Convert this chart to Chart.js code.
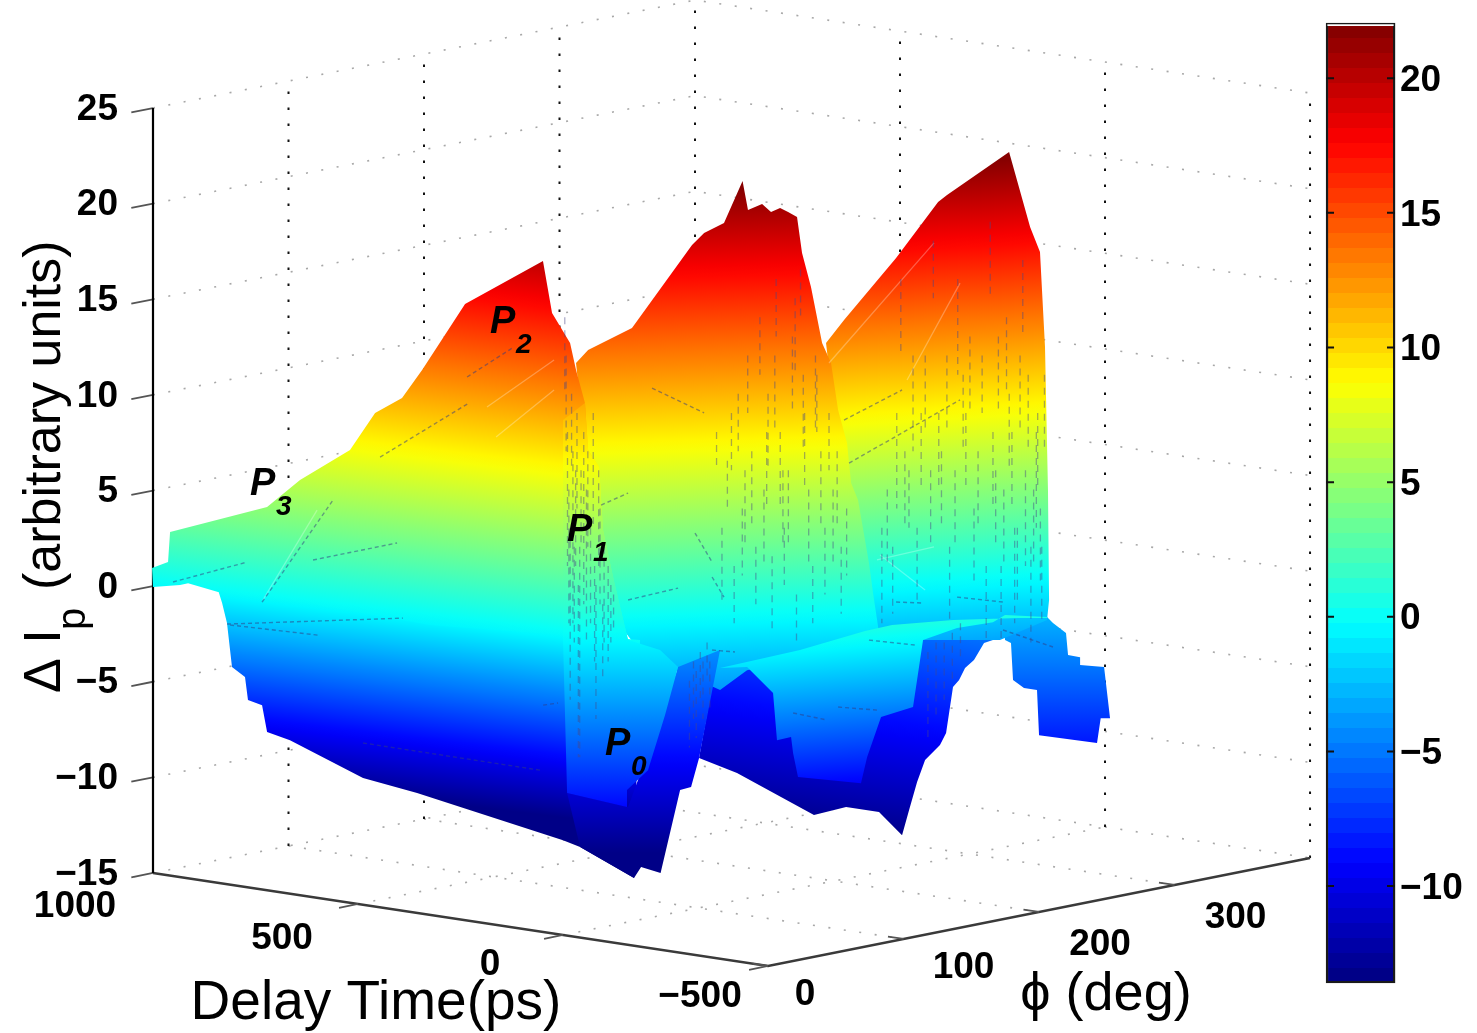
<!DOCTYPE html>
<html><head><meta charset="utf-8">
<style>html,body{margin:0;padding:0;background:#fff}canvas{display:block}</style>
<script src="https://cdn.jsdelivr.net/npm/chart.js@4"></script>
</head><body><canvas id="c" width="1477" height="1033"></canvas>
<script>
// ---------- axis ticks ----------
const ipTicks=[-15,-10,-5,0,5,10,15,20,25];
const delayTicks=[-500,0,500,1000];
const phiTicks=[0,100,200,300];
const phiLimit=400;
const colorTicks=[-10,-5,0,5,10,15,20];
const colorMin=-13.6, colorMax=22.05;

// ---------- surface silhouettes ----------
// phi = position projected on the phi axis (deg), ip = height on the Delta Ip axis
const rearPhi=[-50.9,-22.9,33.9,57.6,81.9,98.9,104.1,110,115.9,126.9,131.4,136.5,141,145.4,152,159.4,166,169,172,97.4,-35.4];
const rearIp=[-9.05,-9.83,-12.03,-11.61,-11.87,-13.08,-11.77,-10.3,-9.15,-8.37,-7.74,-5.33,-4.97,-4.34,-3.92,-3.03,-2.88,-2.25,-0.78,-0.78,-2.88];
const tailPhi=[172,174.9,179.3,180.8,188.9,198.5,200,242.8,245.5,252.4,248,230.3,230.3,221.4,219.9,210.3,205.9,205.9];
const tailIp=[-0.78,-2.88,-3.03,-4.97,-5.39,-5.49,-7.85,-8.26,-6.96,-6.96,-4.29,-4.18,-3.77,-3.66,-2.51,-1.99,-1.67,-0.78];
const rightPhi=[42.8,56.1,94.5,125.5,132.1,177.9,193.4,200.7,204.4,206.6,207.4,205.9,171.2,67.9];
const rightIp=[12.66,13.86,17.1,20.03,20.4,22.65,18.72,17.42,12.45,4.97,-0.78,-1.83,-2.88,-2.88];
const middlePhi=[-141.7,-132.8,-100.4,-56.1,-47.2,-32.5,-18.8,-14.8,-4.4,2.2,8.9,14.8,21.4,25.1,31.7,39.9,46.5,51.7,58.3,61.3,66.4,74.5,77.5,82.7,-15.5,-35.4,-92.3,-124];
const middleIp=[11.61,12.29,13.44,17.78,18.41,18.93,21.13,19.61,19.93,19.51,19.72,19.51,19.25,17.36,15.59,12.66,11.61,9.15,7.43,5.33,4.45,1.15,-0.42,-2.88,-4.45,-5.49,-3.66,-0.78];
const valleyPhi=[-35.4,-15.5,3.7,6.6,17,18.5,22.1,68.6,73.1,83.4,107,114.4,139.5,166,174.9,205.9,205.9,184.5,136.5,91.5,71.6,23.6];
const valleyIp=[-4.34,-4.29,-5.65,-8.11,-7.95,-8.79,-10.04,-10.36,-9,-6.9,-6.38,-2.88,-2.25,-1.94,-1.57,-1.67,-1.73,-1.73,-1.83,-2.09,-2.4,-3.4];
const leftLowPhi=[-405.9,-402.9,-399.3,-395.6,-386,-383.8,-373.4,-369.7,-352.8,-298.9,-259,-151.3,-138.7,-98.9,-94.5,-249.4,-345.4];
const leftLowIp=[-0.26,-0.94,-1.99,-4.29,-4.81,-6.01,-6.28,-7.69,-8.11,-10.09,-10.88,-13.34,-13.7,-15.32,-2.88,-1.99,-0.78];
const wedgePhi=[-35.4,-50.9,-56.8,-64.9,-79.3,-93.7,-98.9,-138.7,-148.3,-103.3,-79.7,-66.4];
const wedgeIp=[-3.4,-9.05,-10.56,-10.72,-15.06,-14.75,-15.32,-13.7,-10.88,-11.61,-7.06,-4.29];
const leftHighPhi=[-454.6,-442.8,-441.3,-369.7,-345.4,-308.5,-290,-270.1,-255.3,-223.6,-166.1,-159.4,-146.1,-141.7,-135.1,-132.8,-124.7,-121.8,-114.4,-109.2,-103.3,-249.4,-345.4,-405.9,-428,-433.9,-453.9];
const leftHighIp=[0.89,1.2,2.77,4.08,5.49,7.06,9,9.78,11.24,14.7,16.95,14.23,12.66,11.24,9.52,7.06,6.17,2.88,0.42,-1.15,-2.88,-2.09,-0.89,-0.37,0.1,0,-0.1];
const ridgePhi=[-151.3,-135.1,-132.8,-124.7,-121.8,-114.4,-109.2,-103.3,-79.7,-66.4,-76,-88.6,-104.1,-104.1,-148.3,-151.3];
const ridgeIp=[8.63,9.52,7.06,6.17,2.88,0.42,-1.15,-2.88,-3.4,-4.29,-6.8,-9.68,-10.72,-11.61,-10.88,-2.88];

// ---------- vertical mesh streaks: phi, high, low ----------
const streakPhi=[-150,-149,-148,-147,-146,-145,-144,-143,-142,-141,-140,-139,-138,-136,-134,-133,-131,-129,-128,-127,-125,-124,-122,-121,-118,-116,-114,
 -58,-55,-53,-50,-48,-45,-43,-38,-34,-30,-27,-25,-22,-19,-17,-15,-12,-9,-6,-3,-1,0,3,5,6,9,11,12,15,18,20,21,24,26,27,30,33,35,36,39,42,45,48,51,54,58,
 84,88,92,95,98,101,104,107,110,113,116,118,120,122,124,126,128,130,132,134,136,138,140,142,144,146,149,152,155,158,161,164,166,168,170,172,174,176,178,180,182,184,186,188,190,192,194,196,198,199,201,202,204];
const streakHigh=[14,12,8,5,3,10,7,2,6,9,0,2,6,8,5,7,3,9,1,0,6,4,-1,2,1,0,-0.5,
 -5,-4,-4.5,-3.5,-4,-3,-4,8,3,6.5,9,1,10,4,6,12,7,2,14,5,8,10,1.5,12,16,8,6,3,6,13,15,-0.5,16.5,11,9,5,1,12,11,7,3,9,5,7,2,4,
 3,5,2,9,16,7,6,12,3,9,12,-3.5,6,18,-3,9,7,-3,12,2,-2.5,6,16,-2,11,9,13,4,7,12,1,19,8,6,13,1,5,14,10,8,3,3,12,17,6,11,2,5,8,9,4,2,11,13];
const streakLow=[10,7,1,-2,-6,6,-2,-3,1,4,-9,-9,2,-1,-3,2,-2,3,-4,-7,1,-1,-5,-3,-4,-3,-2.5,
 -8.5,-7,-8,-6,-7,-5,-6.5,6,-1,4,6,-2,7,0.5,2,9,3,-1,11,1,4,6,-2.5,8,13,4,2,0,2,9,11,-3,14,7,5,1,-2,8,8,3,-0.5,6,1,3,-1.5,0.5,
 -2,1,-1.5,4,12,3,3,7,-1,5,8,-8,2,15,-7,5,3,-6,8,-2,-5,2,11,-4,7,5,9,0,3,9,-3,15,4,2,9,-3,1,10,6,4,-2,-1,8,13,1,7,-3,1,3,5,0,-2,7,8];

// ---------- dark creases on the surface ----------
const creasePhi=[[-373.4,-321],[-439.1,-384.5],[-335.8,-273.8],[-399.3,-269.4],[-397,-332.1],[-298.9,-168.3],[-166,-155],[-286.3,-220.7],[-222.1,-187.5],[-85.6,-47.2],[-53.9,-41.3],[-41.3,-32.5],[-123.2,-103.3],[-103.3,-66.4],[56.1,98.9],[59.8,141.7],[18.5,43.7],[51.7,80.4],[74.5,108.5],[94.5,114.4],[139.5,173.4],[173.4,210.3],[-41.3,-24.4]];
const creaseIp=[[-0.89,4.45],[0.16,1.2],[1.31,2.2],[-2.04,-1.73],[-2.09,-2.62],[-8.26,-9.68],[-6.28,-6.17],[6.69,9.52],[10.88,12.45],[10.3,9],[2.72,1.2],[0.42,-0.63],[4.18,4.81],[-0.78,-0.16],[8.63,10.2],[6.38,9.68],[-6.69,-7.06],[-6.38,-6.54],[-2.88,-3.14],[-0.89,-0.94],[-0.63,-0.89],[-2.35,-3.24],[-3.4,-3.5]];

// ---------- pale mesh lines on the surface ----------
const sheenPhi=[[80.4,122.5],[82.7,115.9],[45,122.5],[102.6,141.7],[-207.4,-157.9],[-200.7,-157.9],[-372.7,-332.8]];
const sheenIp=[[1.31,1.99],[1.57,-0.26],[11.61,17.89],[10.72,15.79],[9.31,11.77],[7.74,10.2],[-0.78,3.92]];

// ---------- peak labels ----------
const peakNames=['P','P','P','P'];
const peakSubs=['3','2','1','0'];
const peakPhi=[-382.3,-205.2,-148.3,-120.3];
const peakIp=[4.71,13.18,2.3,-8.89];

// ---------- projection of the 3-D box on the two chart scales ----------
const DELAY_SKEW=0.3026, PHI_RISE=0.014118, DELAY_RISE=0.003242, FLOOR_DROP=-4.92;
const px=(phi,delay)=>phi-(delay+500)*DELAY_SKEW;
const py=(phi,delay,z)=>z+FLOOR_DROP+phi*PHI_RISE+(delay+500)*DELAY_RISE;
const P=(phi,delay,z)=>({x:px(phi,delay),y:py(phi,delay,z)});
const GAP={x:0,y:null};
const zFloor=ipTicks[0], zTop=ipTicks[ipTicks.length-1], dBack=1000, dFront=-500;

function jet(t){const c=v=>Math.round(255*Math.max(0,Math.min(1,v)));
 return `rgb(${c(Math.min(4*t-1.5,-4*t+4.5))},${c(Math.min(4*t-.5,-4*t+3.5))},${c(Math.min(4*t+.5,-4*t+2.5))})`;}
function jetStops(g){for(let i=0;i<64;i++){const col=jet((i+.5)/64);g.addColorStop(i/64,col);g.addColorStop((i+1)/64,col);}return g;}
function jetSmooth(g){for(let i=0;i<64;i++){g.addColorStop((i+.5)/64,jet((i+.5)/64));}return g;}

function lineSet(data,color,width,dash,order){return {type:'scatter',showLine:true,data,borderColor:color,borderWidth:width,borderDash:dash||[],pointRadius:0,clip:false,order,spanGaps:false,tension:0,fill:false};}

// grid
const lightGrid=[],darkGrid=[],floorTicks=[];
ipTicks.forEach(z=>{lightGrid.push(P(0,dBack,z),P(phiLimit,dBack,z),P(phiLimit,dFront,z),GAP);});
delayTicks.slice(1,3).forEach(d=>{lightGrid.push(P(0,d,zFloor),P(phiLimit,d,zFloor),GAP);});
phiTicks.slice(1).forEach(p=>{lightGrid.push(P(p,dBack,zFloor),P(p,dFront,zFloor),GAP);
  darkGrid.push(P(p,dBack,zFloor),P(p,dBack,zTop),GAP);});
[1000,500,0,-500].forEach(d=>{darkGrid.push(P(phiLimit,d,zFloor),P(phiLimit,d,zTop),GAP);});
delayTicks.forEach(d=>floorTicks.push(P(0,d,zFloor),P(-14,d,zFloor),GAP));
phiTicks.forEach(p=>floorTicks.push(P(p,dFront,zFloor),P(p,dFront+38,zFloor),GAP));
ipTicks.forEach(z=>floorTicks.push(P(0,dBack,z),P(-16,dBack,z),GAP));

// sheets, back to front: [phi, ip, base(left,right) in Ip units, gain]
const zip=(a,b)=>a.map((v,i)=>({x:v,y:b[i]}));
const sheetList=[
 [rearPhi,rearIp,[6.22,4.18],0.736],
 [tailPhi,tailIp,[1.83,1.83],0.83],
 [rightPhi,rightIp,[-0.1,0.6],1],
 [middlePhi,middleIp,[-1.73,-1.31],0.98],
 [valleyPhi,valleyIp,[-3.4,-2.09],1.226],
 [leftLowPhi,leftLowIp,[-0.26,-2.88],1.366],
 [wedgePhi,wedgeIp,[1.31,1.31],0.87],
 [leftHighPhi,leftHighIp,[0.16,-2.77],1.034],
 [ridgePhi,ridgeIp,[-2.46,-2.46],0.976]
];
const datasets=[];
let ord=2000;
datasets.push(lineSet(lightGrid,'rgba(130,130,130,0.7)',1.6,[2,13.6],ord--));
datasets.push(lineSet(darkGrid,'#111',2,[2.4,13.6],ord--));
datasets.push(lineSet([P(0,dBack,zFloor),P(0,dFront,zFloor),P(phiLimit,dFront,zFloor)],'#3a3a3a',2.4,[],ord--));
datasets.push(lineSet(floorTicks,'#555',1.8,[],ord--));
datasets.push(lineSet([P(0,dBack,zFloor),P(0,dBack,zTop)],'#000',2.2,[],ord--));
sheetList.forEach(s=>{datasets.push({type:'scatter',showLine:false,data:zip(s[0],s[1]),pointRadius:0,clip:false,order:ord--,sheet:{base:s[2],gain:s[3]}});});
const sheenData=[];sheenPhi.forEach((p,i)=>{sheenData.push({x:p[0],y:sheenIp[i][0]},{x:p[1],y:sheenIp[i][1]},{x:p[0],y:null});});
datasets.push(lineSet(sheenData,'rgba(255,255,255,0.28)',1.3,[],ord--));
const streakData=[];streakPhi.forEach((p,i)=>{streakData.push({x:p,y:streakHigh[i]},{x:p,y:streakLow[i]},{x:p,y:null});});
datasets.push(lineSet(streakData,'rgba(70,70,135,0.45)',1.3,[7,6],ord--));
const creaseData=[];creasePhi.forEach((p,i)=>{creaseData.push({x:p[0],y:creaseIp[i][0]},{x:p[1],y:creaseIp[i][1]},{x:p[0],y:null});});
datasets.push(lineSet(creaseData,'rgba(50,60,130,0.5)',1.4,[4,3],ord--));

// colour bar
const barPhi=437.3, barLeft=411.8, barRight=462.7, tickIn=5.9, capIp=21.97;
const colorBar={type:'bar',yAxisID:'y2',data:[{x:barPhi,y:[colorMin,colorMax]}],barThickness:69,borderWidth:2.4,borderColor:'#1a1a1a',borderSkipped:false,clip:false,order:ord--,
 backgroundColor(ctx){const c=ctx.chart,s=c.scales.y2;if(!s||!c.chartArea)return '#000';
  return jetStops(c.ctx.createLinearGradient(0,s.getPixelForValue(colorMin),0,s.getPixelForValue(colorMax)));}};
datasets.push(colorBar);
const capSet=lineSet([{x:barLeft+1,y:capIp},{x:barRight-1,y:capIp}],'#fff',1.8,[],ord--);capSet.yAxisID='y2';datasets.push(capSet);
const barTicks=[];colorTicks.forEach(v=>{barTicks.push({x:barLeft,y:v},{x:barLeft+tickIn,y:v},{x:barLeft,y:null},{x:barRight-tickIn,y:v},{x:barRight,y:v},{x:barLeft,y:null});});
const barTickSet=lineSet(barTicks,'#111',2,[],ord--);barTickSet.yAxisID='y2';datasets.push(barTickSet);

const sheetPlugin={id:'sheet',beforeDatasetDraw(chart,args){
 const ds=chart.data.datasets[args.index];if(!ds.sheet)return;
 const pts=args.meta.data,ctx=chart.ctx,ys=chart.scales.y;
 let xL=Infinity,xR=-Infinity;pts.forEach(p=>{xL=Math.min(xL,p.x);xR=Math.max(xR,p.x);});
 const bL=ys.getPixelForValue(ds.sheet.base[0]),bR=ys.getPixelForValue(ds.sheet.base[1]);
 const k=(ys.getPixelForValue(0)-ys.getPixelForValue(1))/ds.sheet.gain;
 const s=(bR-bL)/(xR-xL),gx=s/k,gy=-1/k,g2=gx*gx+gy*gy;
 const g=ctx.createLinearGradient(xL+colorMin*gx/g2,bL+colorMin*gy/g2,xL+colorMax*gx/g2,bL+colorMax*gy/g2);
 jetSmooth(g);
 ctx.save();ctx.beginPath();pts.forEach((p,i)=>i?ctx.lineTo(p.x,p.y):ctx.moveTo(p.x,p.y));ctx.closePath();
 ctx.fillStyle=g;ctx.fill();ctx.restore();
}};

const SANS='"Liberation Sans",Arial,sans-serif';
const fmt=v=>String(v).replace('-','\u2212');
const textPlugin={id:'texts',afterDatasetsDraw(chart){
 const ctx=chart.ctx,xs=chart.scales.x,ys=chart.scales.y;
 const X=v=>xs.getPixelForValue(v),Y=v=>ys.getPixelForValue(v);
 ctx.save();ctx.fillStyle='#000';ctx.textBaseline='alphabetic';
 // peak labels
 peakNames.forEach((n,i)=>{const a=X(peakPhi[i]),b=Y(peakIp[i]);
  ctx.font=`italic bold 38px ${SANS}`;ctx.textAlign='left';ctx.fillText(n,a,b);
  ctx.font=`italic bold 28px ${SANS}`;ctx.fillText(peakSubs[i],a+26,b+20);});
 // floor tick labels
 ctx.textBaseline='middle';ctx.textAlign='center';ctx.font=`bold 37px ${SANS}`;
 const delayOff=[[-68,31],[-73,30],[-76,35],[-78,34]];
 delayTicks.forEach((d,i)=>ctx.fillText(fmt(d),X(px(0,d))+delayOff[i][0],Y(py(0,d,zFloor))+delayOff[i][1]));
 const phiOff=[[37,29],[60,29],[61,33],[61,33]];
 phiTicks.forEach((p,i)=>ctx.fillText(fmt(p),X(px(p,dFront))+phiOff[i][0],Y(py(p,dFront,zFloor))+phiOff[i][1]));
 // axis titles
 ctx.textBaseline='alphabetic';ctx.textAlign='center';ctx.font=`55px ${SANS}`;
 ctx.fillText('Delay Time(ps)',376,1019);
 ctx.font=`54px ${SANS}`;
 ctx.fillText('\u03D5 (deg)',1106,1010);
 ctx.save();ctx.translate(60,693);ctx.rotate(-Math.PI/2);ctx.textAlign='left';
 ctx.font=`52px ${SANS}`;ctx.fillText('\u0394 I',0,0);
 ctx.font=`40px ${SANS}`;ctx.fillText('p',63,25);
 ctx.font=`52px ${SANS}`;ctx.fillText('(arbitrary units)',103,0);
 ctx.restore();
 ctx.restore();
}};
const noPad=s=>{s.paddingTop=0;s.paddingBottom=0;s.paddingLeft=0;s.paddingRight=0;};

new Chart(document.getElementById('c'),{
 type:'scatter',
 data:{datasets},
 plugins:[sheetPlugin,textPlugin],
 options:{responsive:false,animation:false,
  layout:{padding:{top:23,bottom:50,left:0,right:0}},
  plugins:{legend:{display:false},tooltip:{enabled:false}},
  scales:{
   x:{type:'linear',display:false,min:-453.9,max:462.7,offset:false},
   y:{type:'linear',position:'left',min:-20.81,max:29.39,
    afterBuildTicks(s){s.ticks=ipTicks.map(v=>({value:v}));},
    afterFit(s){s.width=153;noPad(s);},
    grid:{display:false,drawTicks:false},border:{display:false},
    ticks:{autoSkip:false,padding:35,labelOffset:2.5,color:'#000',font:{family:SANS,size:37,weight:'bold'},callback:v=>fmt(v)}},
   y2:{type:'linear',position:'right',min:colorMin,max:colorMax,
    afterBuildTicks(s){s.ticks=colorTicks.map(v=>({value:v}));},
    afterFit(s){s.width=82;noPad(s);},
    grid:{display:false,drawTicks:false},border:{display:false},
    ticks:{autoSkip:false,padding:5,labelOffset:2.5,color:'#000',font:{family:SANS,size:37,weight:'bold'},callback:v=>fmt(v)}}
  }}
});
</script></body></html>
